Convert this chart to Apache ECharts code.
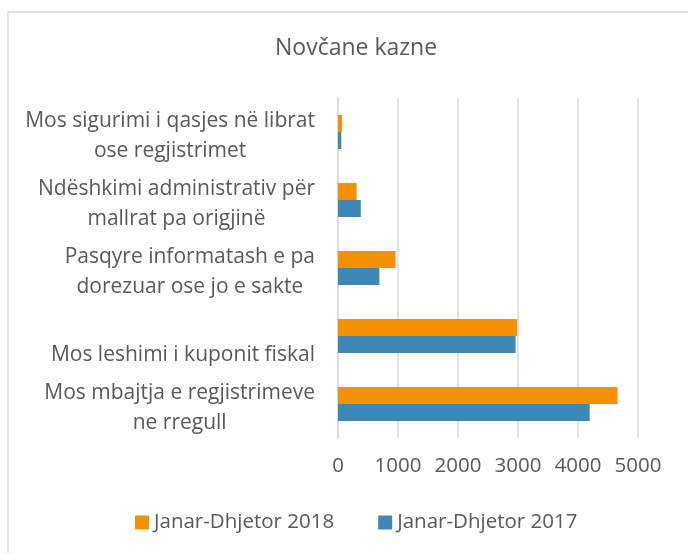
<!DOCTYPE html>
<html>
<head>
<meta charset="utf-8">
<script src="https://cdn.jsdelivr.net/npm/echarts@6/dist/echarts.min.js"></script>
<style>
  html, body { margin: 0; padding: 0; background: #fff; }
  #chart { width: 688px; height: 553px; }
</style>
</head>
<body>
<div id="chart"></div>
<script>
// categories top to bottom
const categories = [
  'Mos sigurimi i qasjes në librat\nose regjistrimet',
  'Ndëshkimi administrativ për\nmallrat pa origjinë',
  'Pasqyre informatash e pa\ndorezuar ose jo e sakte',
  'Mos leshimi i kuponit fiskal',
  'Mos mbajtja e regjistrimeve\nne rregull',
];
const values2018 = [65, 310, 960, 2985, 4660];
const values2017 = [55, 380, 690, 2960, 4195];
const seriesNames = ['Janar-Dhjetor 2018', 'Janar-Dhjetor 2017'];

const textColor = '#595959';
const font = 'Open Sans';

const chart = echarts.init(document.getElementById('chart'));

const option = {
  backgroundColor: '#fff',
  animation: false,
  textStyle: { fontFamily: font },
  graphic: [{
    type: 'rect',
    shape: { x: 8, y: 12, width: 700, height: 600 },
    style: { fill: 'none', stroke: '#d9d9d9', lineWidth: 1.5 },
    silent: true,
  }],
  title: {
    text: 'Novčane kazne',
    left: 270,
    top: 32,
    textStyle: { fontFamily: font, fontSize: 23, fontWeight: 'normal', color: textColor },
  },
  legend: {
    data: seriesNames,
    bottom: 15,
    left: 130,
    itemWidth: 14,
    itemHeight: 14,
    itemGap: 44,
    icon: 'rect',
    textStyle: { fontFamily: font, fontSize: 20.5, color: textColor },
  },
  grid: { left: 338, right: 50, top: 98, bottom: 115 },
  xAxis: {
    type: 'value',
    min: 0,
    max: 5000,
    interval: 1000,
    axisLine: { show: false },
    axisTick: { show: false },
    splitLine: { lineStyle: { color: '#d9d9d9', width: 1.5 } },
    axisLabel: {
      margin: 18,
      fontFamily: font,
      fontSize: 20.5,
      color: textColor,
      formatter: (v) => String(v),
    },
  },
  yAxis: {
    type: 'category',
    inverse: true,
    data: categories,
    axisLine: { lineStyle: { color: '#d9d9d9', width: 1.5 } },
    axisTick: { show: false },
    axisLabel: {
      margin: 23,
      lineHeight: 30,
      padding: [8, 0, 0, 0],
      fontFamily: font,
      fontSize: 21,
      color: textColor,
      formatter: (v) => {
        const lines = v.split('\n').map((l) => '{c|' + l + '}');
        if (lines.length === 1) lines.unshift('');
        return lines.join('\n');
      },
      rich: {
        c: { align: 'center', fontFamily: font, fontSize: 21, color: textColor, lineHeight: 30 },
      },
    },
  },
  series: [
    {
      name: seriesNames[0],
      type: 'bar',
      data: values2018,
      barGap: '0%',
      barCategoryGap: '50%',
      itemStyle: { color: '#F59100' },
    },
    {
      name: seriesNames[1],
      type: 'bar',
      data: values2017,
      barGap: '0%',
      barCategoryGap: '50%',
      itemStyle: { color: '#3F88B5' },
    },
  ],
};

chart.setOption(option);
</script>
</body>
</html>
